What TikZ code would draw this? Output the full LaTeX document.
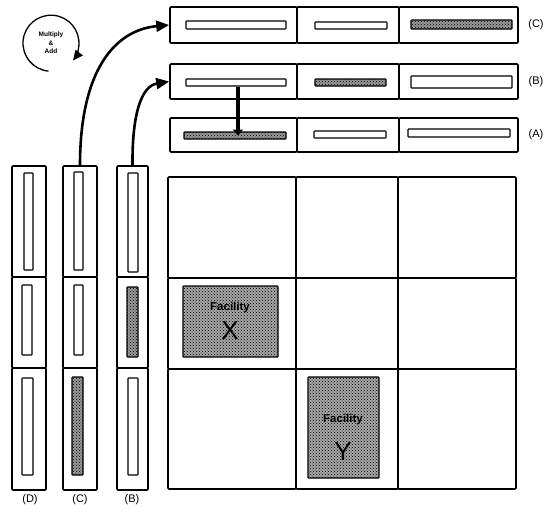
\documentclass[tikz,border=0pt]{standalone}
\usepackage{fontspec}
\setmainfont{Liberation Sans}
\usetikzlibrary{patterns,arrows.meta}
\newcommand\mkbox[6]{\node[#6, minimum width={#4-#2}, minimum height={#5-#3}] (#1) at ({(#2+#4)/2},{(#3+#5)/2}) {};}
\begin{document}
\begin{tikzpicture}[x=1pt,y=-1pt,
  box/.style={draw,line width=1.6pt,rounded corners=1pt,inner sep=0pt},
  bar/.style={draw,line width=1.1pt,rounded corners=0.6pt,inner sep=0pt,fill=white},
  hbar/.style={draw,line width=1.1pt,rounded corners=0.6pt,inner sep=0pt,fill=gray!80,
    postaction={pattern=crosshatch dots,pattern color=black}},
  fac/.style={draw,line width=1.2pt,rounded corners=0.6pt,inner sep=0pt,fill=gray!70,
    postaction={pattern=crosshatch dots,pattern color=black}},
  lab/.style={font=\fontsize{11}{13}\selectfont,inner sep=0pt},
  factxt/.style={font=\fontsize{11.5}{13}\selectfont\bfseries,inner sep=0pt},
  facbig/.style={font=\fontsize{26}{28}\selectfont,inner sep=0pt},
  bigarrow/.style={line width=2.6pt,-{Triangle[length=13pt,width=11pt]}},
  downarrow/.style={line width=4pt,-{Triangle[length=6pt,width=10pt]}},
  looparrow/.style={line width=1.3pt,-{Triangle[length=10pt,width=9pt]}}]
\useasboundingbox (0,0) rectangle (557,515);
% left columns
\mkbox{d1}{12}{166}{46}{277}{box}
\mkbox{d2}{12}{277}{46}{368}{box}
\mkbox{d3}{12}{368}{46}{490}{box}
\mkbox{c1}{63}{166}{97}{277}{box}
\mkbox{c2}{63}{277}{97}{368}{box}
\mkbox{c3}{63}{368}{97}{490}{box}
\mkbox{b1}{117}{166}{148}{277}{box}
\mkbox{b2}{117}{277}{148}{368}{box}
\mkbox{b3}{117}{368}{148}{490}{box}
\mkbox{d1bar}{24}{173}{33}{270}{bar}
\mkbox{d2bar}{22}{285}{32}{355}{bar}
\mkbox{d3bar}{22}{378}{33}{475}{bar}
\mkbox{c1bar}{74}{172}{83}{270}{bar}
\mkbox{c2bar}{74}{285}{83}{355}{bar}
\mkbox{c3bar}{72}{377}{83}{475}{hbar}
\mkbox{b1bar}{128}{173}{138}{272}{bar}
\mkbox{b2bar}{127}{287}{138}{357}{hbar}
\mkbox{b3bar}{128}{378}{138}{475}{bar}
\node[lab] (labD) at (30,500) {(D)};
\node[lab] (labC) at (80,500) {(C)};
\node[lab] (labB) at (132,500) {(B)};
% top rows
\mkbox{rc1}{170}{7}{297}{43}{box}
\mkbox{rc2}{297}{7}{399}{43}{box}
\mkbox{rc3}{399}{7}{518}{43}{box}
\mkbox{rc1bar}{186}{21}{286}{29}{bar}
\mkbox{rc2bar}{315}{22}{387}{29}{bar}
\mkbox{rc3bar}{411}{20}{512}{29}{hbar}
\mkbox{rb1}{170}{64}{297}{99}{box}
\mkbox{rb2}{297}{64}{399}{99}{box}
\mkbox{rb3}{399}{64}{518}{99}{box}
\mkbox{rb1bar}{186}{79}{286}{86}{bar}
\mkbox{rb2bar}{315}{79}{386}{86}{hbar}
\mkbox{rb3bar}{411}{76}{512}{88}{bar}
\mkbox{ra1}{170}{118}{297}{152}{box}
\mkbox{ra2}{297}{118}{399}{152}{box}
\mkbox{ra3}{399}{118}{518}{152}{box}
\mkbox{ra1bar}{184}{132}{286}{139}{hbar}
\mkbox{ra2bar}{314}{131}{386}{138}{bar}
\mkbox{ra3bar}{408}{129}{510}{137}{bar}
\node[lab] (labRC) at (536,25) {(C)};
\node[lab] (labRB) at (536,82) {(B)};
\node[lab] (labRA) at (536,135) {(A)};
% grid
\mkbox{g11}{168}{177}{296}{278}{box}
\mkbox{g12}{296}{177}{398}{278}{box}
\mkbox{g13}{398}{177}{516}{278}{box}
\mkbox{g21}{168}{278}{296}{369}{box}
\mkbox{g22}{296}{278}{398}{369}{box}
\mkbox{g23}{398}{278}{516}{369}{box}
\mkbox{g31}{168}{369}{296}{489}{box}
\mkbox{g32}{296}{369}{398}{489}{box}
\mkbox{g33}{398}{369}{516}{489}{box}
\mkbox{fx}{183}{286}{278}{357}{fac}
\mkbox{fy}{308}{377}{379}{478}{fac}
\node[factxt] (fxt) at (230,308) {Facility};
\node[facbig] (fxx) at (230,331) {X};
\node[factxt] (fyt) at (343,420) {Facility};
\node[facbig] (fyy) at (343,452) {Y};
% multiply & add
\node[circle,minimum size=56pt,inner sep=0pt,align=center,
  font=\fontsize{6.5}{8.5}\selectfont\bfseries] (ma) at (51,43) {Multiply\\\&\\Add};
\draw[looparrow] (ma.265) arc[start angle=265,end angle=-38,radius=28pt];
% connectors
\draw[bigarrow] (c1.north) .. controls (80,70) and (115,30) .. (rc1.west);
\draw[bigarrow] (b1.north) .. controls (132,112) and (142,86) .. (rb1.west);
\draw[downarrow] (rb1bar.south -| 238,0) -- (ra1bar.center -| 238,0);
\end{tikzpicture}
\end{document}
